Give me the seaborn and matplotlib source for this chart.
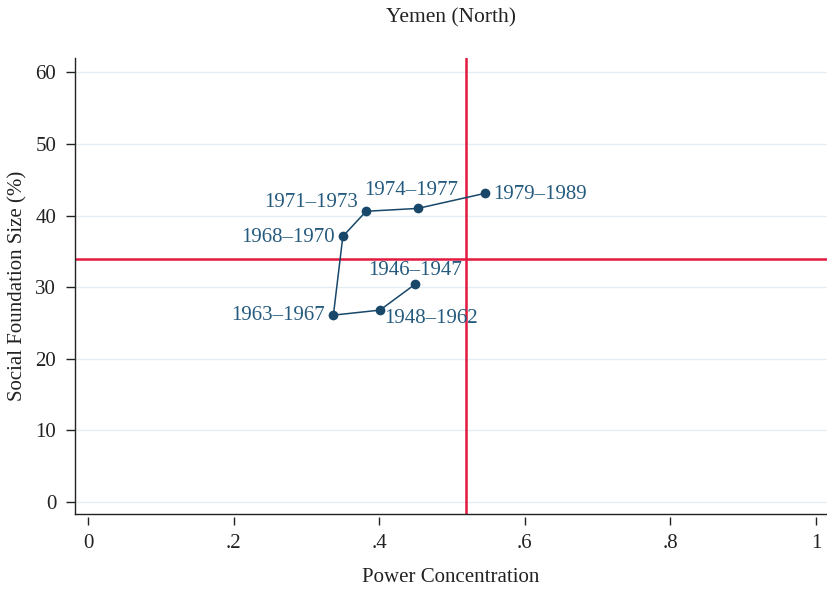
import matplotlib
matplotlib.use("Agg")
import matplotlib.pyplot as plt
import seaborn as sns
import pandas as pd

# Periods in chronological order, with power concentration and social foundation size
periods = ["1946–1947", "1948–1962", "1963–1967", "1968–1970",
           "1971–1973", "1974–1977", "1979–1989"]
power = [0.449, 0.401, 0.337, 0.350, 0.382, 0.453, 0.545]
foundation = [30.4, 26.8, 26.1, 37.1, 40.6, 41.0, 43.1]

# Reference lines (thresholds)
power_cut = 0.519
foundation_cut = 34.0

x_ticks = [0, 0.2, 0.4, 0.6, 0.8, 1.0]
x_tick_labels = ["0", ".2", ".4", ".6", ".8", "1"]
y_ticks = [0, 10, 20, 30, 40, 50, 60]

# Label offsets (points) and alignment per period
label_pos = {
    "1946–1947": ((0, 10), "center", "center"),
    "1948–1962": ((3, -6), "left", "center"),
    "1963–1967": ((-6, -0.5), "right", "center"),
    "1968–1970": ((-6, -0.5), "right", "center"),
    "1971–1973": ((-6, 6.5), "right", "center"),
    "1974–1977": ((-5, 13), "center", "center"),
    "1979–1989": ((6, -0.5), "left", "center"),
}

sns.set_theme(style="white")
plt.rcParams["font.family"] = ["Liberation Serif", "DejaVu Serif"]

df = pd.DataFrame({"period": periods, "power": power, "foundation": foundation})

fig = plt.figure(figsize=(8.27, 5.89), dpi=100)
ax = fig.add_axes([0.0907, 0.1273, 0.9093, 0.7742])

mark_color = "#18476a"
text_color = "#245a7d"
red = "#e3193f"
ink = "#222222"

for yt in y_ticks:
    ax.axhline(yt, color="#e2eef1", lw=1.0, zorder=0)

ax.axvline(power_cut, color=red, lw=1.8, zorder=1)
ax.axhline(foundation_cut, color=red, lw=1.8, zorder=1)

sns.lineplot(data=df, x="power", y="foundation", sort=False, ax=ax,
             color=mark_color, lw=1.1, marker="o", markersize=7,
             markeredgewidth=0, zorder=3)

for p, xv, yv in zip(periods, power, foundation):
    (dx, dy), ha, va = label_pos[p]
    ax.annotate(p, (xv, yv), xytext=(dx, dy), textcoords="offset points",
                ha=ha, va=va, fontsize=15, color=text_color)

ax.set_xlim(-0.0179, 1.015)
ax.set_ylim(-1.67, 62.0)

for s in ["top", "right"]:
    ax.spines[s].set_visible(False)
for s in ["left", "bottom"]:
    ax.spines[s].set_color(ink)
    ax.spines[s].set_linewidth(1.0)

ax.set_yticks(y_ticks)
ax.set_yticklabels([str(v) for v in y_ticks])
ax.tick_params(axis="y", left=True, length=6.5, width=1.0, color=ink,
               labelsize=15, pad=7, labelcolor=ink)

# x ticks drawn on a slightly detached axis below the frame
ax.set_xticks([])
sec = ax.secondary_xaxis(-0.007)
sec.set_xticks(x_ticks)
sec.set_xticklabels(x_tick_labels)
sec.spines["bottom"].set_visible(False)
sec.tick_params(axis="x", length=6, width=1.0, color=ink,
                labelsize=15, pad=6, labelcolor=ink)
sec.set_xlabel("Power Concentration", fontsize=15, labelpad=11, color=ink)

ax.set_xlabel("")
ax.set_ylabel("Social Foundation Size (%)", fontsize=15, labelpad=6, color=ink)
fig.text(0.545, 0.970, "Yemen (North)", ha="center", va="center",
         fontsize=15.5, color=ink)

fig.savefig("out.png", dpi=100)
